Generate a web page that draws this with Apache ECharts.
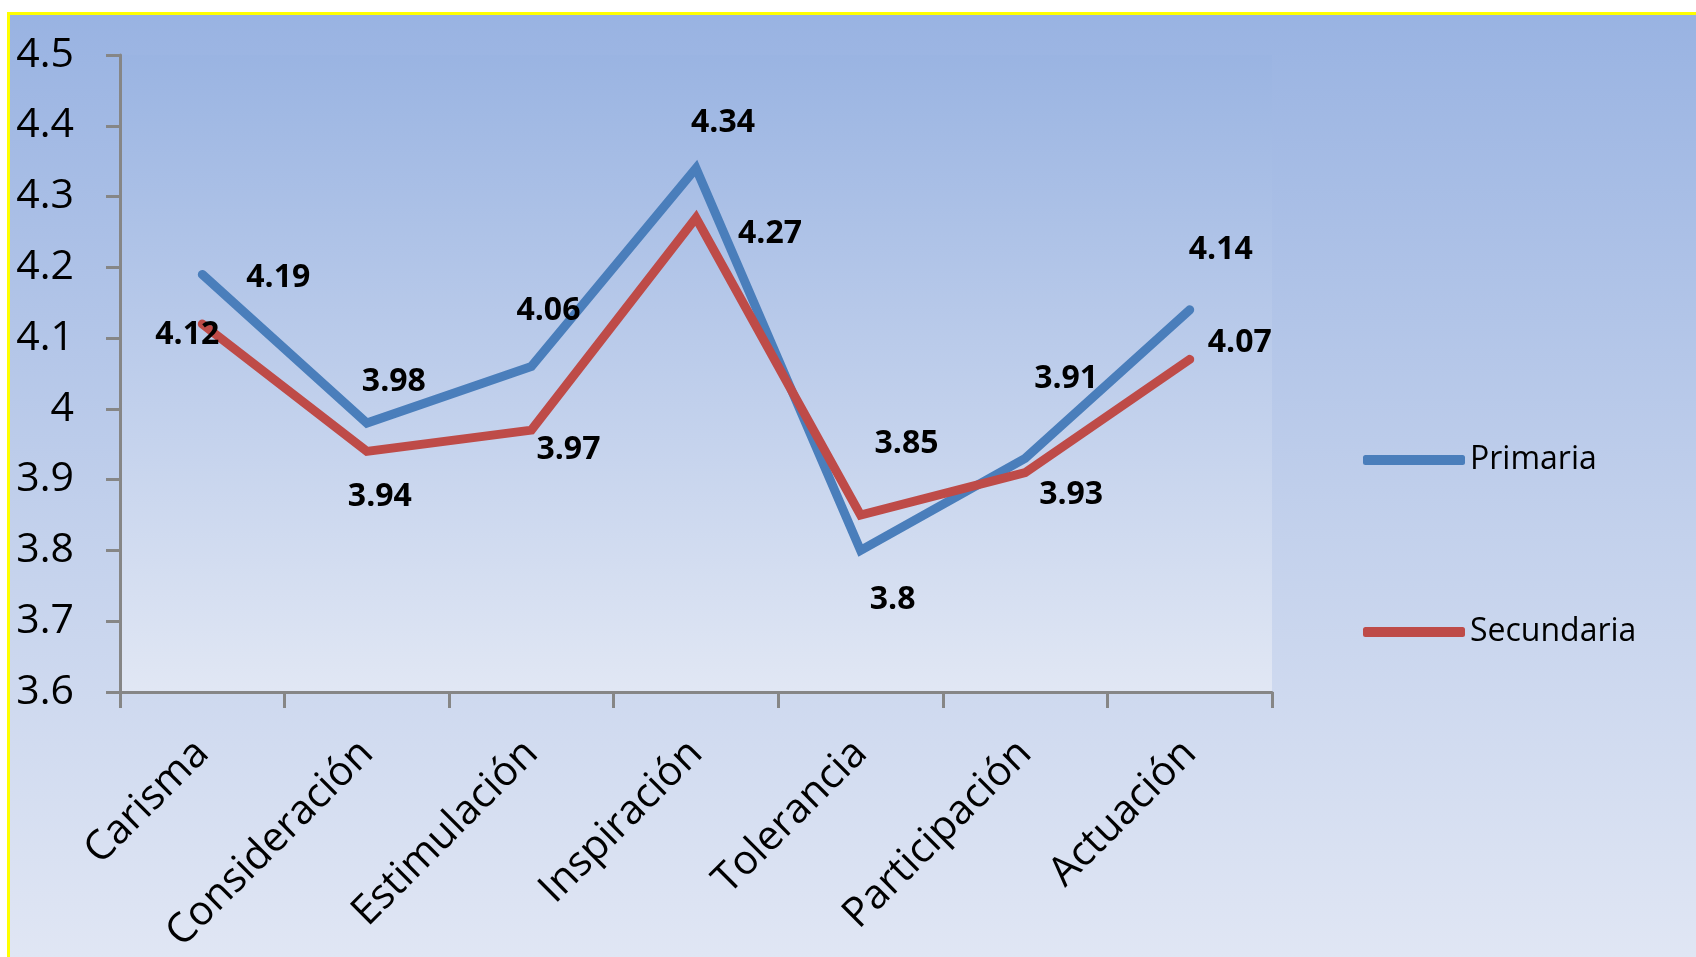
<!DOCTYPE html>
<html>
<head>
<meta charset="utf-8">
<script src="https://cdn.jsdelivr.net/npm/echarts@6/dist/echarts.min.js"></script>
<style>
  html, body { margin: 0; padding: 0; background: #ffffff; width: 1696px; height: 957px; overflow: hidden; }
  #frame { position: absolute; left: 7px; top: 12px; width: 1689px; height: 945px;
           border-left: 3px solid #ffff00; border-top: 3px solid #ffff00; box-sizing: border-box; }
  #chart { position: absolute; left: 0; top: 0; width: 1686px; height: 942px; }
</style>
</head>
<body>
<div id="frame"><div id="chart"></div></div>
<script>
// Dimensiones de liderazgo evaluadas
const categories = ['Carisma', 'Consideración', 'Estimulación', 'Inspiración', 'Tolerancia', 'Participación', 'Actuación'];

// Puntuaciones medias por nivel educativo
const primaria   = [4.19, 3.98, 4.06, 4.34, 3.80, 3.93, 4.14];
const secundaria = [4.12, 3.94, 3.97, 4.27, 3.85, 3.91, 4.07];

// Marcas del eje vertical
const yTicks = ['3.6', '3.7', '3.8', '3.9', '4', '4.1', '4.2', '4.3', '4.4', '4.5'];

// Desplazamiento de cada etiqueta de valor respecto a su punto (px)
const offsetsPrimaria   = [[76, 3], [27, -41], [17, -56], [27, -45], [32, 49], [46, 36], [31, -60]];
const offsetsSecundaria = [[-15, 11], [13, 46], [37, 20], [74, 16], [46, -71], [41, -94], [50, -16]];

const BLUE = '#4a7ebb';
const RED = '#be4b48';
const AXIS = '#868686';
const FONT = '"Open Sans", "DejaVu Sans", sans-serif';

function withLabels(values, offsets) {
  return values.map((v, i) => ({
    value: v,
    label: { offset: offsets[i] }
  }));
}

const labelStyle = {
  show: true,
  position: 'inside',
  fontFamily: FONT,
  fontSize: 32,
  fontWeight: 'bold',
  color: '#000000',
  formatter: p => String(p.value)
};

const chart = echarts.init(document.getElementById('chart'), null, { renderer: 'canvas' });

chart.setOption({
  animation: false,
  backgroundColor: new echarts.graphic.LinearGradient(0, 0, 0, 1, [
    { offset: 0, color: '#99b3e2' },
    { offset: 0.55, color: '#c3d1ec' },
    { offset: 1, color: '#e0e6f4' }
  ]),
  grid: {
    left: 110, top: 40, width: 1152, height: 637,
    show: true,
    borderWidth: 0,
    backgroundColor: new echarts.graphic.LinearGradient(0, 0, 0, 1, [
      { offset: 0, color: '#9ab4e2' },
      { offset: 1, color: '#e1e7f4' }
    ])
  },
  legend: {
    orient: 'vertical',
    left: 1348,
    top: 420,
    itemWidth: 102,
    itemHeight: 10,
    itemGap: 132,
    icon: 'roundRect',
    textStyle: { fontFamily: FONT, fontSize: 32, color: '#000000', lineHeight: 40 },
    data: ['Primaria', 'Secundaria']
  },
  xAxis: {
    type: 'category',
    data: categories,
    boundaryGap: true,
    axisLine: { lineStyle: { color: AXIS, width: 3 } },
    axisTick: { show: true, alignWithLabel: false, length: 16, lineStyle: { color: AXIS, width: 3 } },
    axisLabel: {
      rotate: 45,
      margin: 55,
      interval: 0,
      fontFamily: FONT,
      fontSize: 41,
      color: '#000000'
    },
    splitLine: { show: false }
  },
  yAxis: {
    type: 'value',
    min: 3.6,
    max: 4.5,
    interval: 0.1,
    axisLine: { show: true, lineStyle: { color: AXIS, width: 3 } },
    axisTick: { show: true, length: 14, lineStyle: { color: AXIS, width: 3 } },
    axisLabel: {
      margin: 46,
      fontFamily: FONT,
      fontSize: 41,
      color: '#000000',
      formatter: v => {
        const i = Math.round((v - 3.6) / 0.1);
        return yTicks[i] !== undefined ? yTicks[i] : '';
      }
    },
    splitLine: { show: false }
  },
  series: [
    {
      name: 'Primaria',
      type: 'line',
      data: withLabels(primaria, offsetsPrimaria),
      symbol: 'circle',
      symbolSize: 1,
      itemStyle: { color: BLUE },
      lineStyle: { color: BLUE, width: 9, cap: 'round', join: 'miter' },
      label: labelStyle,
      z: 2
    },
    {
      name: 'Secundaria',
      type: 'line',
      data: withLabels(secundaria, offsetsSecundaria),
      symbol: 'circle',
      symbolSize: 1,
      itemStyle: { color: RED },
      lineStyle: { color: RED, width: 9, cap: 'round', join: 'miter' },
      label: labelStyle,
      z: 3
    }
  ]
});
</script>
</body>
</html>
